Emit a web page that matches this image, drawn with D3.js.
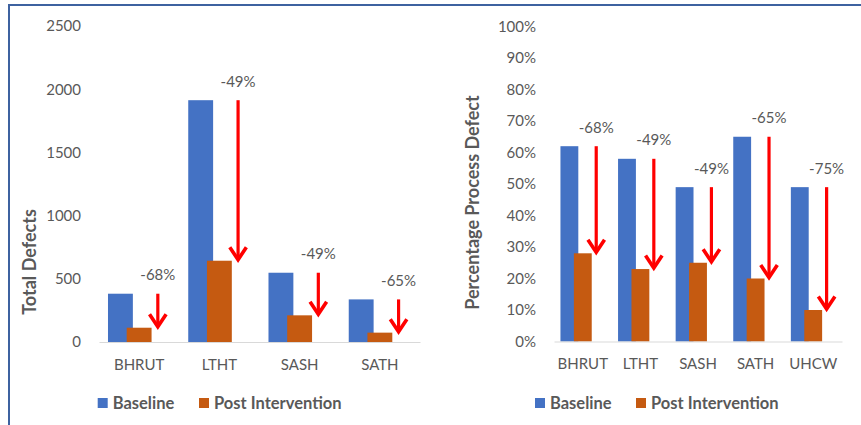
<!DOCTYPE html>
<html>
<head>
<meta charset="utf-8">
<script src="https://cdn.jsdelivr.net/npm/d3@7"></script>
<style>
  html, body { margin: 0; padding: 0; background: #fff; }
  svg { display: block; font-family: Lato, "Open Sans", sans-serif; }
</style>
</head>
<body>
<svg id="chart" width="861" height="425"></svg>
<script>
// Total defects per trust
const defectCategories = ["BHRUT", "LTHT", "SASH", "SATH"];
const defectBaseline = [382, 1913, 548, 337];
const defectPost = [113, 643, 211, 74];
const defectChange = ["-68%", "-49%", "-49%", "-65%"];
const defectTicks = [0, 500, 1000, 1500, 2000, 2500];

// Percentage process defect per trust
const pctCategories = ["BHRUT", "LTHT", "SASH", "SATH", "UHCW"];
const pctBaseline = [0.62, 0.58, 0.49, 0.65, 0.49];
const pctPost = [0.28, 0.23, 0.25, 0.20, 0.10];
const pctChange = ["-68%", "-49%", "-49%", "-65%", "-75%"];
const pctTicks = [0, 0.1, 0.2, 0.3, 0.4, 0.5, 0.6, 0.7, 0.8, 0.9, 1.0];

const seriesNames = ["Baseline", "Post Intervention"];
const seriesColors = ["#4472C4", "#C55A11"];
const arrowColor = "#FF0000";
const textColor = "#595959";

const svg = d3.select("#chart");

// Frame lines along the top and left edge
svg.append("line").attr("x1", 8).attr("x2", 861).attr("y1", 5).attr("y2", 5)
  .attr("stroke", "#3E62A0").attr("stroke-width", 2);
svg.append("line").attr("x1", 9).attr("x2", 9).attr("y1", 4).attr("y2", 425)
  .attr("stroke", "#3E62A0").attr("stroke-width", 2);

function drawPanel(cfg) {
  const g = svg.append("g");
  const data = cfg.categories.map((c, i) => ({
    cat: c, base: cfg.baseline[i], post: cfg.post[i], change: cfg.change[i]
  }));

  const x0 = d3.scaleBand().domain(cfg.categories).range([cfg.x0, cfg.x1]);
  const bw = x0.bandwidth();
  const step = 0.233 * bw;
  const barW = 0.31 * bw;
  // Two visible series plus an empty slot where the change arrow sits
  const x1 = d3.scalePoint().domain(["base", "post", "change"]).range([-step, step]);
  const y = d3.scaleLinear().domain(cfg.domain).range([cfg.yBottom, cfg.yTop]);
  const cx = d => x0(d.cat) + bw / 2;

  // Value axis (labels only)
  const yAxis = g.append("g")
    .attr("transform", `translate(${cfg.tickX + 4},0)`)
    .call(d3.axisLeft(y).tickValues(cfg.ticks).tickSize(0).tickPadding(4).tickFormat(cfg.fmt));
  yAxis.select(".domain").remove();
  yAxis.selectAll("text").attr("fill", textColor).style("font-size", "15px")
    .style("font-family", "Lato, sans-serif");

  // Bars
  g.selectAll(".base").data(data).join("rect")
    .attr("x", d => cx(d) + x1("base") - barW / 2)
    .attr("y", d => y(d.base))
    .attr("width", barW)
    .attr("height", d => y(0) - y(d.base))
    .attr("fill", seriesColors[0]);
  g.selectAll(".post").data(data).join("rect")
    .attr("x", d => cx(d) + x1("post") - barW / 2)
    .attr("y", d => y(d.post))
    .attr("width", barW)
    .attr("height", d => y(0) - y(d.post))
    .attr("fill", seriesColors[1]);

  // Category axis
  const xAxis = g.append("g")
    .attr("transform", `translate(0,${cfg.yBottom})`)
    .call(d3.axisBottom(x0).tickSize(0).tickPadding(17));
  xAxis.select(".domain").attr("stroke", "#D9D9D9").attr("stroke-width", 1.2);
  xAxis.selectAll("text").attr("fill", textColor).style("font-size", "15px")
    .style("font-family", "Lato, sans-serif");

  // Change arrows: from baseline level down to post-intervention level
  const ax = d => cx(d) + x1("change");
  g.selectAll(".shaft").data(data).join("line")
    .attr("x1", ax).attr("x2", ax)
    .attr("y1", d => y(d.base)).attr("y2", d => y(d.post) - 1)
    .attr("stroke", arrowColor).attr("stroke-width", 3.2);
  g.selectAll(".head").data(data).join("path")
    .attr("d", d => {
      const tx = ax(d), ty = y(d.post) - 1;
      return `M${tx - 8.3},${ty - 12.5}L${tx},${ty}L${tx + 8.3},${ty - 12.5}`;
    })
    .attr("fill", "none").attr("stroke", arrowColor).attr("stroke-width", 3.6)
    .attr("stroke-linejoin", "miter").attr("stroke-linecap", "butt");

  // Change labels above arrows
  g.selectAll(".chg").data(data).join("text")
    .attr("x", ax).attr("y", d => y(d.base) - 13.5)
    .attr("text-anchor", "middle").attr("fill", textColor)
    .style("font-size", "15px")
    .text(d => d.change);

  // Axis title
  g.append("text")
    .attr("transform", `translate(${cfg.titleX},${cfg.titleY}) rotate(-90)`)
    .attr("text-anchor", "middle").attr("dy", "0.35em")
    .attr("fill", textColor).style("font-size", "18px").style("font-weight", "bold")
    .text(cfg.title);

  // Legend
  const leg = g.append("g");
  seriesNames.forEach((name, i) => {
    const lx = cfg.legendX[i];
    leg.append("rect").attr("x", lx).attr("y", 398).attr("width", 10).attr("height", 10)
      .attr("fill", seriesColors[i]);
    leg.append("text").attr("x", lx + 15).attr("y", 408.8)
      .attr("fill", textColor).style("font-size", "16.5px").style("font-weight", "bold")
      .text(name);
  });
}

drawPanel({
  categories: defectCategories, baseline: defectBaseline, post: defectPost,
  change: defectChange, ticks: defectTicks, domain: [0, 2500],
  fmt: d3.format("d"),
  x0: 99, x1: 420, yBottom: 342, yTop: 26, tickX: 81,
  title: "Total Defects", titleX: 29.5, titleY: 262,
  legendX: [97.7, 199]
});

drawPanel({
  categories: pctCategories, baseline: pctBaseline, post: pctPost,
  change: pctChange, ticks: pctTicks, domain: [0, 1],
  fmt: d3.format(".0%"),
  x0: 554, x1: 842, yBottom: 341.5, yTop: 26.5, tickX: 536,
  title: "Percentage Process Defect", titleX: 472.5, titleY: 202.5,
  legendX: [535, 636]
});
</script>
</body>
</html>
